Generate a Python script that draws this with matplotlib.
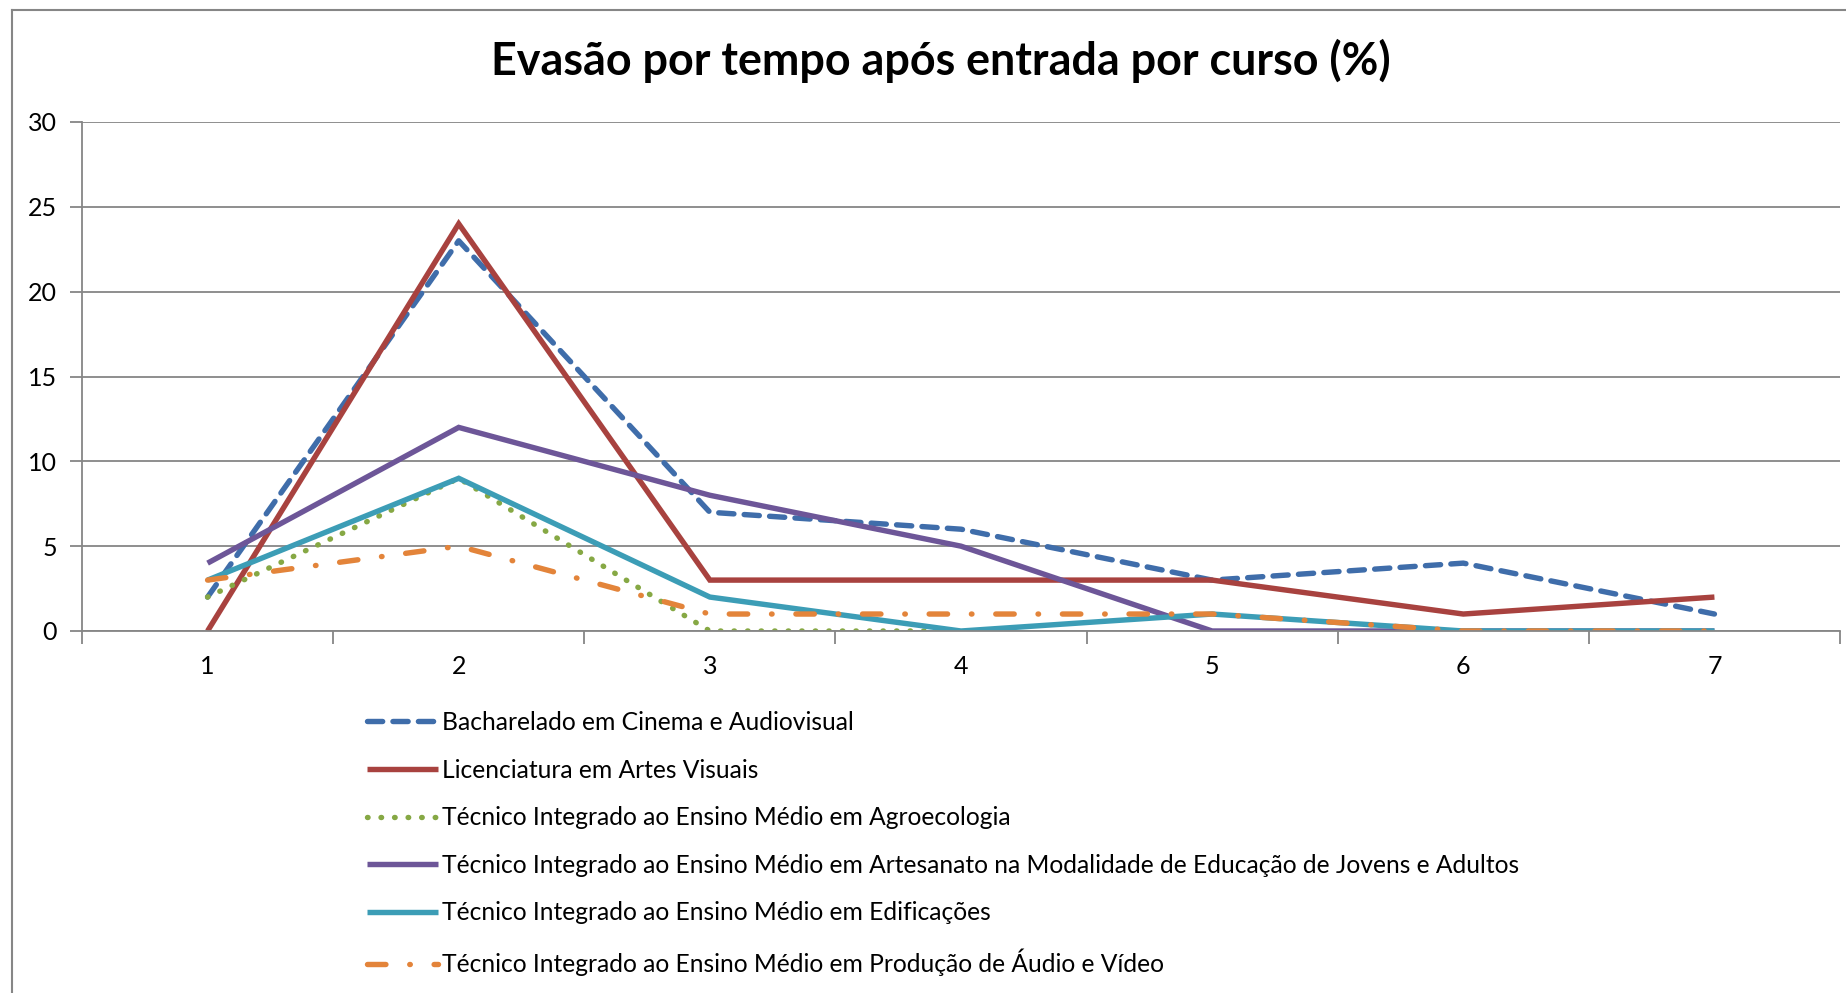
import matplotlib.pyplot as plt
from matplotlib.lines import Line2D
import numpy as np

plt.rcParams['font.family'] = ['Lato', 'DejaVu Sans']

# tempo após entrada (categorias do eixo x)
periods = [1, 2, 3, 4, 5, 6, 7]

bacharelado = [2, 23, 7, 6, 3, 4, 1]
licenciatura = [0, 24, 3, 3, 3, 1, 2]
agroecologia = [2, 9, 0, 0, np.nan, np.nan, np.nan]
artesanato = [4, 12, 8, 5, 0, 0, 0]
edificacoes = [3, 9, 2, 0, 1, 0, 0]
audio_video = [3, 5, 1, 1, 1, 0, 0]

labels = [
    'Bacharelado em Cinema e Audiovisual',
    'Licenciatura em Artes Visuais',
    'Técnico Integrado ao Ensino Médio em Agroecologia',
    'Técnico Integrado ao Ensino Médio em Artesanato na Modalidade de Educação de Jovens e Adultos',
    'Técnico Integrado ao Ensino Médio em Edificações',
    'Técnico Integrado ao Ensino Médio em Produção de Áudio e Vídeo',
]

W, H = 1846, 993
fig = plt.figure(figsize=(W / 100, H / 100), dpi=100)
ax = fig.add_axes([82 / W, 1 - 631 / H, (1840 - 82) / W, (631 - 122) / H])

lw = 3.9
series = [
    (bacharelado, '#3F6DAA', (0, (2.8, 1.9))),
    (licenciatura, '#A8423F', '-'),
    (agroecologia, '#86A844', (0, (0.1, 2.4))),
    (artesanato, '#6D5698', '-'),
    (edificacoes, '#3C9DB6', '-'),
    (audio_video, '#E3843A', (0, (3.4, 4.4, 0.1, 4.4))),
]
for (vals, color, ls), lab in zip(series, labels):
    ax.plot(periods, vals, color=color, lw=lw, linestyle=ls, label=lab,
            dash_capstyle='round', solid_capstyle='butt', solid_joinstyle='miter')

ax.set_xlim(0.5, 7.5)
ax.set_ylim(0, 30)
ax.set_yticks(np.arange(0, 31, 5))
ax.set_xticks(periods)
ax.set_xticks(np.arange(0.5, 7.6, 1), minor=True)
ax.tick_params(axis='x', which='major', length=0, pad=17, labelsize=18)
ax.tick_params(axis='x', which='minor', length=9, width=1.3, color='#868686', direction='out')
ax.tick_params(axis='y', length=9, width=1.3, color='#868686', pad=9, labelsize=18)
ax.grid(axis='y', color='#868686', lw=1.3)
ax.set_axisbelow(True)
for s in ['top', 'right']:
    ax.spines[s].set_visible(False)
for s in ['left', 'bottom']:
    ax.spines[s].set_color('#868686')
    ax.spines[s].set_linewidth(1.3)

fig.text(941 / W, 1 - 61 / H, 'Evasão por tempo após entrada por curso (%)',
         ha='center', va='center', fontsize=32.3, fontweight='bold')

fig.legend(loc='upper left', bbox_to_anchor=(367 / W, 1 - 711 / H), frameon=False,
           fontsize=17.7, handlelength=2.9, handletextpad=0.15, labelspacing=1.0,
           borderpad=0, borderaxespad=0)

# moldura do gráfico (só a borda esquerda e superior aparecem)
fig.add_artist(Line2D([12 / W, 12 / W], [0, 1 - 10 / H], transform=fig.transFigure,
                      color='#868686', lw=1.5))
fig.add_artist(Line2D([12 / W, 1], [1 - 10 / H, 1 - 10 / H], transform=fig.transFigure,
                      color='#868686', lw=1.5))

fig.savefig('out.png', dpi=100)
